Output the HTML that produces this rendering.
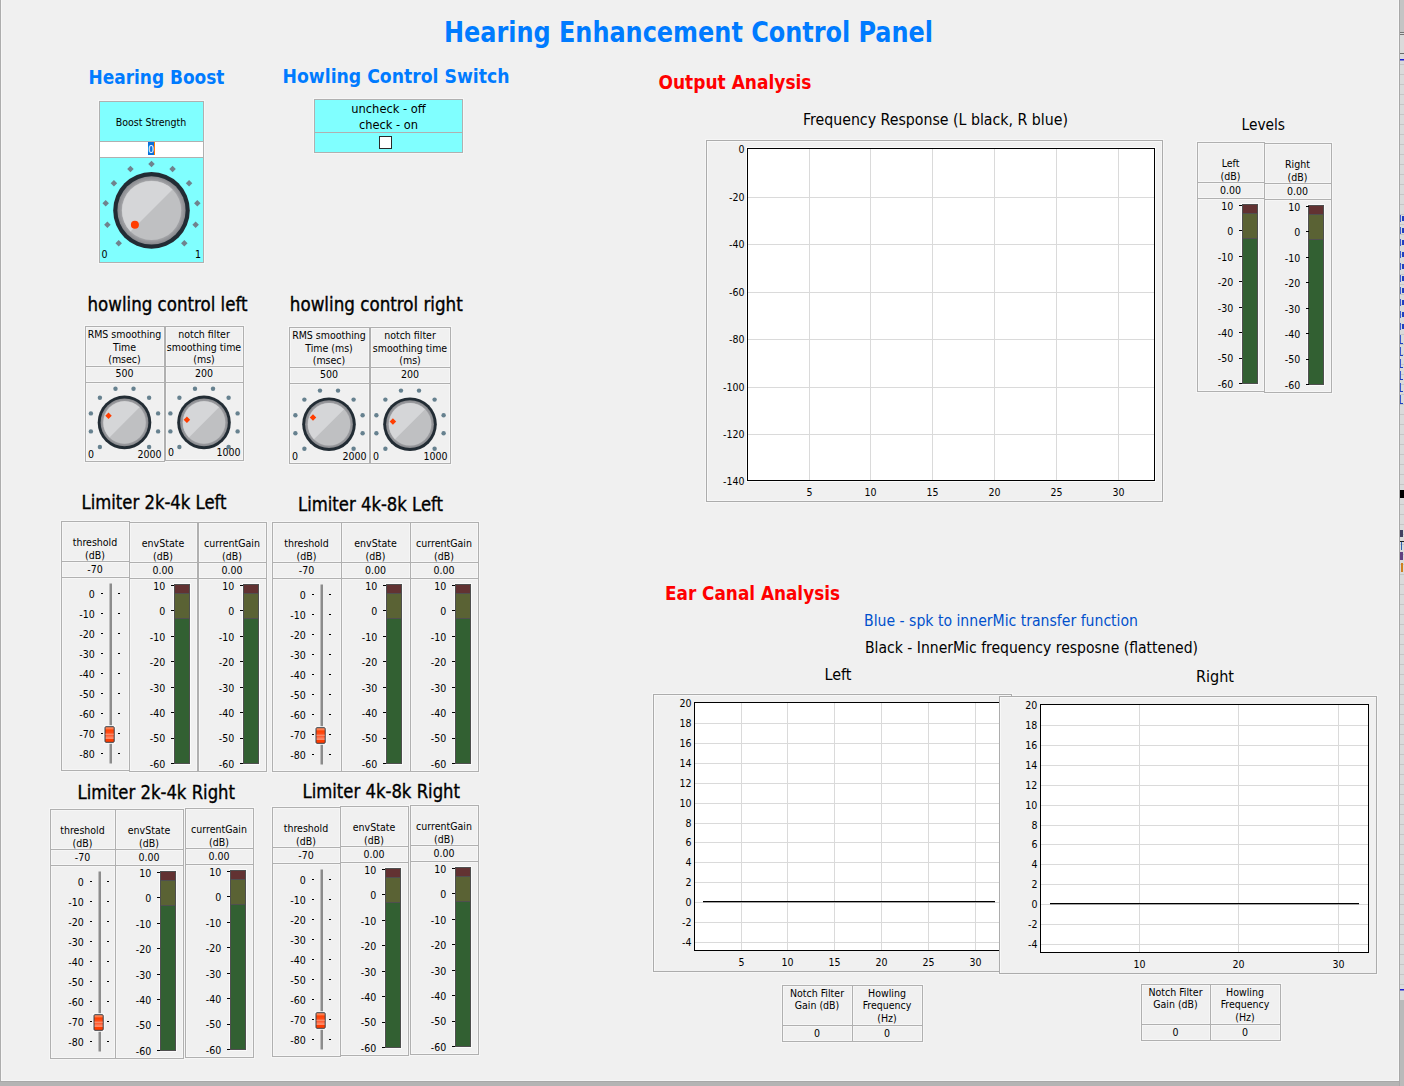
<!DOCTYPE html>
<html><head><meta charset="utf-8"><title>Hearing Enhancement Control Panel</title>
<style>
html,body{margin:0;padding:0;background:#f0f0f0;overflow:hidden;}
svg{display:block;}
text{font-family:"DejaVu Sans Condensed","DejaVu Sans","Liberation Sans",sans-serif;}
</style></head><body>
<svg width="1404" height="1086" viewBox="0 0 1404 1086">
<rect x="0" y="0" width="1404" height="1086" fill="#f0f0f0" />
<rect x="99.5" y="101.5" width="104" height="161" fill="none" stroke="#f6f6f6" stroke-width="3"/>
<rect x="100" y="140" width="103" height="3" fill="#f6f6f6"/>
<rect x="100" y="156" width="103" height="3" fill="#f6f6f6"/>
<rect x="314.5" y="99.5" width="148" height="53" fill="none" stroke="#f6f6f6" stroke-width="3"/>
<rect x="315" y="131" width="147" height="3" fill="#f6f6f6"/>
<rect x="379.5" y="136.5" width="12" height="12" fill="none" stroke="#f6f6f6" stroke-width="3"/>
<rect x="85.5" y="326.5" width="79" height="135" fill="none" stroke="#f6f6f6" stroke-width="3"/>
<rect x="86" y="365" width="78" height="3" fill="#f6f6f6"/>
<rect x="86" y="381" width="78" height="3" fill="#f6f6f6"/>
<rect x="165.5" y="326.5" width="78" height="134" fill="none" stroke="#f6f6f6" stroke-width="3"/>
<rect x="166" y="365" width="77" height="3" fill="#f6f6f6"/>
<rect x="166" y="381" width="77" height="3" fill="#f6f6f6"/>
<rect x="289.5" y="327.5" width="80" height="136" fill="none" stroke="#f6f6f6" stroke-width="3"/>
<rect x="290" y="366" width="79" height="3" fill="#f6f6f6"/>
<rect x="290" y="382" width="79" height="3" fill="#f6f6f6"/>
<rect x="370.5" y="327.5" width="80" height="136" fill="none" stroke="#f6f6f6" stroke-width="3"/>
<rect x="371" y="366" width="79" height="3" fill="#f6f6f6"/>
<rect x="371" y="382" width="79" height="3" fill="#f6f6f6"/>
<rect x="61.5" y="521.5" width="68" height="249" fill="none" stroke="#f6f6f6" stroke-width="3"/>
<rect x="62" y="560" width="67" height="3" fill="#f6f6f6"/>
<rect x="62" y="576" width="67" height="3" fill="#f6f6f6"/>
<rect x="129.5" y="522.5" width="68" height="249" fill="none" stroke="#f6f6f6" stroke-width="3"/>
<rect x="130" y="561" width="67" height="3" fill="#f6f6f6"/>
<rect x="130" y="577" width="67" height="3" fill="#f6f6f6"/>
<rect x="198.5" y="522.5" width="68" height="249" fill="none" stroke="#f6f6f6" stroke-width="3"/>
<rect x="199" y="561" width="67" height="3" fill="#f6f6f6"/>
<rect x="199" y="577" width="67" height="3" fill="#f6f6f6"/>
<rect x="272.5" y="522.5" width="69" height="249" fill="none" stroke="#f6f6f6" stroke-width="3"/>
<rect x="273" y="561" width="68" height="3" fill="#f6f6f6"/>
<rect x="273" y="577" width="68" height="3" fill="#f6f6f6"/>
<rect x="341.5" y="522.5" width="69" height="249" fill="none" stroke="#f6f6f6" stroke-width="3"/>
<rect x="342" y="561" width="68" height="3" fill="#f6f6f6"/>
<rect x="342" y="577" width="68" height="3" fill="#f6f6f6"/>
<rect x="410.5" y="522.5" width="68" height="249" fill="none" stroke="#f6f6f6" stroke-width="3"/>
<rect x="411" y="561" width="67" height="3" fill="#f6f6f6"/>
<rect x="411" y="577" width="67" height="3" fill="#f6f6f6"/>
<rect x="50.5" y="809.5" width="65" height="249" fill="none" stroke="#f6f6f6" stroke-width="3"/>
<rect x="51" y="848" width="64" height="3" fill="#f6f6f6"/>
<rect x="51" y="864" width="64" height="3" fill="#f6f6f6"/>
<rect x="115.5" y="809.5" width="68" height="249" fill="none" stroke="#f6f6f6" stroke-width="3"/>
<rect x="116" y="848" width="67" height="3" fill="#f6f6f6"/>
<rect x="116" y="864" width="67" height="3" fill="#f6f6f6"/>
<rect x="185.5" y="808.5" width="68" height="249" fill="none" stroke="#f6f6f6" stroke-width="3"/>
<rect x="186" y="847" width="67" height="3" fill="#f6f6f6"/>
<rect x="186" y="863" width="67" height="3" fill="#f6f6f6"/>
<rect x="272.5" y="807.5" width="68" height="249" fill="none" stroke="#f6f6f6" stroke-width="3"/>
<rect x="273" y="846" width="67" height="3" fill="#f6f6f6"/>
<rect x="273" y="862" width="67" height="3" fill="#f6f6f6"/>
<rect x="340.5" y="806.5" width="68" height="249" fill="none" stroke="#f6f6f6" stroke-width="3"/>
<rect x="341" y="845" width="67" height="3" fill="#f6f6f6"/>
<rect x="341" y="861" width="67" height="3" fill="#f6f6f6"/>
<rect x="410.5" y="805.5" width="68" height="249" fill="none" stroke="#f6f6f6" stroke-width="3"/>
<rect x="411" y="844" width="67" height="3" fill="#f6f6f6"/>
<rect x="411" y="860" width="67" height="3" fill="#f6f6f6"/>
<rect x="706.5" y="140.5" width="456" height="361" fill="none" stroke="#f6f6f6" stroke-width="3"/>
<rect x="1197.5" y="142.5" width="67" height="249" fill="none" stroke="#f6f6f6" stroke-width="3"/>
<rect x="1198" y="181" width="66" height="3" fill="#f6f6f6"/>
<rect x="1198" y="197" width="66" height="3" fill="#f6f6f6"/>
<rect x="1264.5" y="143.5" width="67" height="249" fill="none" stroke="#f6f6f6" stroke-width="3"/>
<rect x="1265" y="182" width="66" height="3" fill="#f6f6f6"/>
<rect x="1265" y="198" width="66" height="3" fill="#f6f6f6"/>
<rect x="653.5" y="694.5" width="358" height="277" fill="none" stroke="#f6f6f6" stroke-width="3"/>
<rect x="999.5" y="696.5" width="377" height="277" fill="none" stroke="#f6f6f6" stroke-width="3"/>
<rect x="782.5" y="985.5" width="70" height="56" fill="none" stroke="#f6f6f6" stroke-width="3"/>
<rect x="852.5" y="985.5" width="70" height="56" fill="none" stroke="#f6f6f6" stroke-width="3"/>
<rect x="783" y="1024" width="139" height="3" fill="#f6f6f6"/>
<rect x="1141.5" y="984.5" width="69" height="56" fill="none" stroke="#f6f6f6" stroke-width="3"/>
<rect x="1210.5" y="984.5" width="70" height="56" fill="none" stroke="#f6f6f6" stroke-width="3"/>
<rect x="1142" y="1023" width="138" height="3" fill="#f6f6f6"/>
<rect x="1399" y="0" width="5" height="1086" fill="#dadada" />
<rect x="1399" y="0" width="1" height="1086" fill="#a8a8a8" />
<rect x="1400" y="0" width="4" height="32" fill="#c4c4c4" />
<rect x="1400" y="32" width="4" height="1" fill="#747474" />
<rect x="1400" y="34" width="4" height="1" fill="#747474" />
<rect x="1400" y="53" width="4" height="1" fill="#6a6a6a" />
<rect x="1400" y="59" width="4" height="1.5" fill="#2020d0" />
<rect x="1400" y="64" width="4" height="1" fill="#c6c6c6" />
<rect x="1400" y="74" width="4" height="1" fill="#c6c6c6" />
<rect x="1400" y="84" width="4" height="1" fill="#c6c6c6" />
<rect x="1400" y="94" width="4" height="1" fill="#c6c6c6" />
<rect x="1400" y="104" width="4" height="1" fill="#c6c6c6" />
<rect x="1400" y="114" width="4" height="1" fill="#c6c6c6" />
<rect x="1400" y="124" width="4" height="1" fill="#c6c6c6" />
<rect x="1400" y="134" width="4" height="1" fill="#c6c6c6" />
<rect x="1400" y="144" width="4" height="1" fill="#c6c6c6" />
<rect x="1400" y="154" width="4" height="1" fill="#c6c6c6" />
<rect x="1400" y="164" width="4" height="1" fill="#c6c6c6" />
<rect x="1400" y="174" width="4" height="1" fill="#c6c6c6" />
<rect x="1400" y="184" width="4" height="1" fill="#c6c6c6" />
<rect x="1400" y="194" width="4" height="1" fill="#c6c6c6" />
<rect x="1400" y="204" width="4" height="1" fill="#c6c6c6" />
<rect x="1400" y="214" width="4" height="1" fill="#c6c6c6" />
<rect x="1400" y="224" width="4" height="1" fill="#c6c6c6" />
<rect x="1400" y="234" width="4" height="1" fill="#c6c6c6" />
<rect x="1400" y="244" width="4" height="1" fill="#c6c6c6" />
<rect x="1400" y="254" width="4" height="1" fill="#c6c6c6" />
<rect x="1400" y="264" width="4" height="1" fill="#c6c6c6" />
<rect x="1400" y="274" width="4" height="1" fill="#c6c6c6" />
<rect x="1400" y="284" width="4" height="1" fill="#c6c6c6" />
<rect x="1400" y="294" width="4" height="1" fill="#c6c6c6" />
<rect x="1400" y="304" width="4" height="1" fill="#c6c6c6" />
<rect x="1400" y="314" width="4" height="1" fill="#c6c6c6" />
<rect x="1400" y="324" width="4" height="1" fill="#c6c6c6" />
<rect x="1400" y="334" width="4" height="1" fill="#c6c6c6" />
<rect x="1400" y="344" width="4" height="1" fill="#c6c6c6" />
<rect x="1400" y="354" width="4" height="1" fill="#c6c6c6" />
<rect x="1400" y="364" width="4" height="1" fill="#c6c6c6" />
<rect x="1400" y="374" width="4" height="1" fill="#c6c6c6" />
<rect x="1400" y="384" width="4" height="1" fill="#c6c6c6" />
<rect x="1400" y="394" width="4" height="1" fill="#c6c6c6" />
<rect x="1400" y="404" width="4" height="1" fill="#c6c6c6" />
<rect x="1400" y="414" width="4" height="1" fill="#c6c6c6" />
<rect x="1400" y="424" width="4" height="1" fill="#c6c6c6" />
<rect x="1400" y="434" width="4" height="1" fill="#c6c6c6" />
<rect x="1400" y="444" width="4" height="1" fill="#c6c6c6" />
<rect x="1400" y="454" width="4" height="1" fill="#c6c6c6" />
<rect x="1400" y="464" width="4" height="1" fill="#c6c6c6" />
<rect x="1400" y="474" width="4" height="1" fill="#c6c6c6" />
<rect x="1400" y="484" width="4" height="1" fill="#c6c6c6" />
<rect x="1400" y="494" width="4" height="1" fill="#c6c6c6" />
<rect x="1400" y="504" width="4" height="1" fill="#c6c6c6" />
<rect x="1400" y="514" width="4" height="1" fill="#c6c6c6" />
<rect x="1400" y="524" width="4" height="1" fill="#c6c6c6" />
<rect x="1400" y="534" width="4" height="1" fill="#c6c6c6" />
<rect x="1400" y="544" width="4" height="1" fill="#c6c6c6" />
<rect x="1400" y="554" width="4" height="1" fill="#c6c6c6" />
<rect x="1400" y="564" width="4" height="1" fill="#c6c6c6" />
<rect x="1400" y="574" width="4" height="1" fill="#c6c6c6" />
<rect x="1400" y="584" width="4" height="1" fill="#c6c6c6" />
<rect x="1400" y="594" width="4" height="1" fill="#c6c6c6" />
<rect x="1400" y="604" width="4" height="1" fill="#c6c6c6" />
<rect x="1400" y="614" width="4" height="1" fill="#c6c6c6" />
<rect x="1400" y="624" width="4" height="1" fill="#c6c6c6" />
<rect x="1400" y="634" width="4" height="1" fill="#c6c6c6" />
<rect x="1400" y="644" width="4" height="1" fill="#c6c6c6" />
<rect x="1400" y="654" width="4" height="1" fill="#c6c6c6" />
<rect x="1400" y="664" width="4" height="1" fill="#c6c6c6" />
<rect x="1400" y="674" width="4" height="1" fill="#c6c6c6" />
<rect x="1400" y="684" width="4" height="1" fill="#c6c6c6" />
<rect x="1400" y="694" width="4" height="1" fill="#c6c6c6" />
<rect x="1400" y="704" width="4" height="1" fill="#c6c6c6" />
<rect x="1400" y="714" width="4" height="1" fill="#c6c6c6" />
<rect x="1400" y="724" width="4" height="1" fill="#c6c6c6" />
<rect x="1400" y="734" width="4" height="1" fill="#c6c6c6" />
<rect x="1400" y="744" width="4" height="1" fill="#c6c6c6" />
<rect x="1400" y="754" width="4" height="1" fill="#c6c6c6" />
<rect x="1400" y="764" width="4" height="1" fill="#c6c6c6" />
<rect x="1400" y="774" width="4" height="1" fill="#c6c6c6" />
<rect x="1400" y="784" width="4" height="1" fill="#c6c6c6" />
<rect x="1400" y="794" width="4" height="1" fill="#c6c6c6" />
<rect x="1400" y="804" width="4" height="1" fill="#c6c6c6" />
<rect x="1400" y="814" width="4" height="1" fill="#c6c6c6" />
<rect x="1400" y="824" width="4" height="1" fill="#c6c6c6" />
<rect x="1400" y="834" width="4" height="1" fill="#c6c6c6" />
<rect x="1400" y="844" width="4" height="1" fill="#c6c6c6" />
<rect x="1400" y="854" width="4" height="1" fill="#c6c6c6" />
<rect x="1400" y="864" width="4" height="1" fill="#c6c6c6" />
<rect x="1400" y="874" width="4" height="1" fill="#c6c6c6" />
<rect x="1400" y="884" width="4" height="1" fill="#c6c6c6" />
<rect x="1400" y="894" width="4" height="1" fill="#c6c6c6" />
<rect x="1400" y="904" width="4" height="1" fill="#c6c6c6" />
<rect x="1400" y="914" width="4" height="1" fill="#c6c6c6" />
<rect x="1400" y="924" width="4" height="1" fill="#c6c6c6" />
<rect x="1400" y="934" width="4" height="1" fill="#c6c6c6" />
<rect x="1400" y="944" width="4" height="1" fill="#c6c6c6" />
<rect x="1400" y="954" width="4" height="1" fill="#c6c6c6" />
<rect x="1400" y="964" width="4" height="1" fill="#c6c6c6" />
<rect x="1400" y="974" width="4" height="1" fill="#c6c6c6" />
<rect x="1400" y="984" width="4" height="1" fill="#c6c6c6" />
<rect x="1400" y="215" width="1" height="7" fill="#3a5ad0" />
<rect x="1402" y="216" width="2" height="5" fill="#2040c0" />
<rect x="1400" y="227" width="1" height="7" fill="#3a5ad0" />
<rect x="1402" y="228" width="2" height="5" fill="#2040c0" />
<rect x="1400" y="239" width="1" height="7" fill="#3a5ad0" />
<rect x="1402" y="240" width="2" height="5" fill="#2040c0" />
<rect x="1400" y="251" width="1" height="7" fill="#3a5ad0" />
<rect x="1402" y="252" width="2" height="5" fill="#2040c0" />
<rect x="1400" y="263" width="1" height="7" fill="#3a5ad0" />
<rect x="1402" y="264" width="2" height="5" fill="#2040c0" />
<rect x="1400" y="275" width="1" height="7" fill="#3a5ad0" />
<rect x="1402" y="276" width="2" height="5" fill="#2040c0" />
<rect x="1400" y="287" width="1" height="7" fill="#3a5ad0" />
<rect x="1402" y="288" width="2" height="5" fill="#2040c0" />
<rect x="1400" y="299" width="1" height="7" fill="#3a5ad0" />
<rect x="1402" y="300" width="2" height="5" fill="#2040c0" />
<rect x="1400" y="311" width="1" height="7" fill="#3a5ad0" />
<rect x="1402" y="312" width="2" height="5" fill="#2040c0" />
<rect x="1400" y="323" width="1" height="7" fill="#3a5ad0" />
<rect x="1402" y="324" width="2" height="5" fill="#2040c0" />
<rect x="1400" y="335" width="1" height="8" fill="#3a5ad0" />
<rect x="1400" y="343" width="3" height="1" fill="#2040c0" />
<rect x="1400" y="347" width="1" height="8" fill="#3a5ad0" />
<rect x="1400" y="355" width="3" height="1" fill="#2040c0" />
<rect x="1400" y="359" width="1" height="8" fill="#3a5ad0" />
<rect x="1400" y="367" width="3" height="1" fill="#2040c0" />
<rect x="1400" y="371" width="1" height="8" fill="#3a5ad0" />
<rect x="1400" y="379" width="3" height="1" fill="#2040c0" />
<rect x="1400" y="383" width="1" height="8" fill="#3a5ad0" />
<rect x="1400" y="391" width="3" height="1" fill="#2040c0" />
<rect x="1400" y="395" width="1" height="8" fill="#3a5ad0" />
<rect x="1400" y="403" width="3" height="1" fill="#2040c0" />
<rect x="1400" y="490" width="4" height="8" fill="#000000" />
<rect x="1400" y="530" width="3" height="7" fill="#404060" />
<rect x="1400" y="541" width="4" height="1" fill="#202020" />
<rect x="1401" y="542" width="1" height="8" fill="#3060b0" />
<rect x="1400" y="552" width="3" height="8" fill="#604080" />
<rect x="1401" y="563" width="2" height="9" fill="#d08020" />
<rect x="1400" y="989" width="4" height="1.5" fill="#2020d0" />
<rect x="1400" y="1000" width="4" height="86" fill="#bababa" />
<rect x="0" y="1081" width="1399" height="5" fill="#b4b4b4" />
<rect x="0" y="1081" width="1399" height="1" fill="#a8a8a8" />
<rect x="0" y="0" width="1" height="1081" fill="#adadad" />
<rect x="1" y="0" width="1" height="1080" fill="#f6f6f6" />
<rect x="1" y="1080" width="1398" height="1" fill="#f6f6f6" />
<rect x="1398" y="0" width="1" height="1081" fill="#f6f6f6" />
<text x="444" y="42" font-size="28" text-anchor="start" fill="#007bff" font-weight="bold" textLength="489" lengthAdjust="spacingAndGlyphs" >Hearing Enhancement Control Panel</text>
<text x="88.5" y="84" font-size="19" text-anchor="start" fill="#007bff" font-weight="bold" textLength="136" lengthAdjust="spacingAndGlyphs" >Hearing Boost</text>
<text x="282.5" y="82.7" font-size="19" text-anchor="start" fill="#007bff" font-weight="bold" textLength="227" lengthAdjust="spacingAndGlyphs" >Howling Control Switch</text>
<text x="658.5" y="89" font-size="19" text-anchor="start" fill="#ff0000" font-weight="bold" textLength="153" lengthAdjust="spacingAndGlyphs" >Output Analysis</text>
<text x="665" y="600" font-size="19" text-anchor="start" fill="#ff0000" font-weight="bold" textLength="175" lengthAdjust="spacingAndGlyphs" >Ear Canal Analysis</text>
<defs><radialGradient id="kg" cx="0.5" cy="0.5" r="0.5"><stop offset="0.86" stop-color="#a6a7aa"/><stop offset="0.93" stop-color="#95969a"/><stop offset="1" stop-color="#88898d"/></radialGradient></defs>
<rect x="99" y="101" width="105" height="162" fill="#80ffff" />
<rect x="99.5" y="101.5" width="104" height="161" fill="none" stroke="#b0b0b0" stroke-width="1"/>
<rect x="100" y="141" width="103" height="1" fill="#b0b0b0" />
<rect x="100" y="142" width="103" height="15" fill="#ffffff" />
<rect x="100" y="157" width="103" height="1" fill="#b0b0b0" />
<text x="151" y="125.8" font-size="10.5" text-anchor="middle" fill="#000" font-weight="normal" >Boost Strength</text>
<rect x="148" y="142" width="6" height="13" fill="#0a6fd8" />
<rect x="154" y="142" width="1" height="13" fill="#ff7f00" />
<text x="151" y="152.5" font-size="10.5" text-anchor="middle" fill="#ffffff" font-weight="normal" >0</text>
<path d="M118.69 239.96 L121.94 243.21 L118.69 246.46 L115.44 243.21Z" fill="#6f838e"/>
<path d="M107.37 221.49 L110.62 224.74 L107.37 227.99 L104.12 224.74Z" fill="#6f838e"/>
<path d="M105.67 199.89 L108.92 203.14 L105.67 206.39 L102.42 203.14Z" fill="#6f838e"/>
<path d="M113.96 179.88 L117.21 183.13 L113.96 186.38 L110.71 183.13Z" fill="#6f838e"/>
<path d="M130.43 165.81 L133.68 169.06 L130.43 172.31 L127.18 169.06Z" fill="#6f838e"/>
<path d="M151.50 160.75 L154.75 164.00 L151.50 167.25 L148.25 164.00Z" fill="#6f838e"/>
<path d="M172.57 165.81 L175.82 169.06 L172.57 172.31 L169.32 169.06Z" fill="#6f838e"/>
<path d="M189.04 179.88 L192.29 183.13 L189.04 186.38 L185.79 183.13Z" fill="#6f838e"/>
<path d="M197.33 199.89 L200.58 203.14 L197.33 206.39 L194.08 203.14Z" fill="#6f838e"/>
<path d="M195.63 221.49 L198.88 224.74 L195.63 227.99 L192.38 224.74Z" fill="#6f838e"/>
<path d="M184.31 239.96 L187.56 243.21 L184.31 246.46 L181.06 243.21Z" fill="#6f838e"/>
<circle cx="151.5" cy="210.4" r="38.3" fill="#222c34"/>
<circle cx="151.5" cy="210.4" r="34.099999999999994" fill="url(#kg)"/>
<circle cx="151.5" cy="210.4" r="29.7" fill="#bfc0c2"/>
<path d="M130.50 231.40 A29.7 29.7 0 0 1 172.50 189.40 Z" fill="#d5d6d8"/>
<circle cx="134.90" cy="224.83" r="4.0" fill="#ff3d00"/>
<text x="101.5" y="257.5" font-size="10.5" text-anchor="start" fill="#000" font-weight="normal" >0</text>
<text x="201" y="257.5" font-size="10.5" text-anchor="end" fill="#000" font-weight="normal" >1</text>
<rect x="314" y="99" width="149" height="54" fill="#80ffff" />
<rect x="314.5" y="99.5" width="148" height="53" fill="none" stroke="#b0b0b0" stroke-width="1"/>
<rect x="315" y="132" width="147" height="1" fill="#b0b0b0" />
<text x="388.5" y="112.5" font-size="12.8" text-anchor="middle" fill="#000" font-weight="normal" textLength="74.5" lengthAdjust="spacingAndGlyphs" >uncheck - off</text>
<text x="388.5" y="128.5" font-size="12.8" text-anchor="middle" fill="#000" font-weight="normal" textLength="59" lengthAdjust="spacingAndGlyphs" >check - on</text>
<rect x="379" y="136" width="13" height="13" fill="#ffffff" />
<rect x="379.5" y="136.5" width="12" height="12" fill="none" stroke="#2a2a2a" stroke-width="1"/>
<text x="87.5" y="310.5" font-size="19" text-anchor="start" fill="#000" font-weight="normal" textLength="160" lengthAdjust="spacingAndGlyphs"  stroke="#000" stroke-width="0.35">howling control left</text>
<text x="289.8" y="310.5" font-size="19" text-anchor="start" fill="#000" font-weight="normal" textLength="173" lengthAdjust="spacingAndGlyphs"  stroke="#000" stroke-width="0.35">howling control right</text>
<rect x="85.5" y="326.5" width="79" height="135" fill="none" stroke="#b0b0b0" stroke-width="1"/>
<rect x="86" y="366" width="78" height="1" fill="#b0b0b0" />
<rect x="86" y="382" width="78" height="1" fill="#b0b0b0" />
<text x="124.5" y="337.6" font-size="10.5" text-anchor="middle" fill="#000" font-weight="normal" >RMS smoothing</text>
<text x="124.5" y="350.5" font-size="10.5" text-anchor="middle" fill="#000" font-weight="normal" >Time</text>
<text x="124.5" y="363.40000000000003" font-size="10.5" text-anchor="middle" fill="#000" font-weight="normal" >(msec)</text>
<text x="124.5" y="377" font-size="10.5" text-anchor="middle" fill="#000" font-weight="normal" >500</text>
<circle cx="99.89" cy="447.01" r="2.2" fill="#66818f"/>
<circle cx="90.89" cy="431.41" r="2.2" fill="#66818f"/>
<circle cx="90.89" cy="413.39" r="2.2" fill="#66818f"/>
<circle cx="99.89" cy="397.79" r="2.2" fill="#66818f"/>
<circle cx="115.49" cy="388.79" r="2.2" fill="#66818f"/>
<circle cx="133.51" cy="388.79" r="2.2" fill="#66818f"/>
<circle cx="149.11" cy="397.79" r="2.2" fill="#66818f"/>
<circle cx="158.11" cy="413.39" r="2.2" fill="#66818f"/>
<circle cx="158.11" cy="431.41" r="2.2" fill="#66818f"/>
<circle cx="149.11" cy="447.01" r="2.2" fill="#66818f"/>
<circle cx="124.5" cy="422.4" r="26.8" fill="#222c34"/>
<circle cx="124.5" cy="422.4" r="23.900000000000002" fill="url(#kg)"/>
<circle cx="124.5" cy="422.4" r="21.3" fill="#bfc0c2"/>
<path d="M109.44 437.46 A21.3 21.3 0 0 1 139.56 407.34 Z" fill="#d5d6d8"/>
<path d="M108.52 412.53 L111.77 415.78 L108.52 419.03 L105.27 415.78Z" fill="#ff3d00"/>
<text x="88" y="457.5" font-size="10.5" text-anchor="start" fill="#000" font-weight="normal" >0</text>
<text x="161.5" y="457.5" font-size="10.5" text-anchor="end" fill="#000" font-weight="normal" >2000</text>
<rect x="165.5" y="326.5" width="78" height="134" fill="none" stroke="#b0b0b0" stroke-width="1"/>
<rect x="166" y="366" width="77" height="1" fill="#b0b0b0" />
<rect x="166" y="382" width="77" height="1" fill="#b0b0b0" />
<text x="204.0" y="337.6" font-size="10.5" text-anchor="middle" fill="#000" font-weight="normal" >notch filter</text>
<text x="204.0" y="350.5" font-size="10.5" text-anchor="middle" fill="#000" font-weight="normal" >smoothing time</text>
<text x="204.0" y="363.40000000000003" font-size="10.5" text-anchor="middle" fill="#000" font-weight="normal" >(ms)</text>
<text x="204.0" y="377" font-size="10.5" text-anchor="middle" fill="#000" font-weight="normal" >200</text>
<circle cx="179.39" cy="447.01" r="2.2" fill="#66818f"/>
<circle cx="170.39" cy="431.41" r="2.2" fill="#66818f"/>
<circle cx="170.39" cy="413.39" r="2.2" fill="#66818f"/>
<circle cx="179.39" cy="397.79" r="2.2" fill="#66818f"/>
<circle cx="194.99" cy="388.79" r="2.2" fill="#66818f"/>
<circle cx="213.01" cy="388.79" r="2.2" fill="#66818f"/>
<circle cx="228.61" cy="397.79" r="2.2" fill="#66818f"/>
<circle cx="237.61" cy="413.39" r="2.2" fill="#66818f"/>
<circle cx="237.61" cy="431.41" r="2.2" fill="#66818f"/>
<circle cx="228.61" cy="447.01" r="2.2" fill="#66818f"/>
<circle cx="204.0" cy="422.4" r="26.8" fill="#222c34"/>
<circle cx="204.0" cy="422.4" r="23.900000000000002" fill="url(#kg)"/>
<circle cx="204.0" cy="422.4" r="21.3" fill="#bfc0c2"/>
<path d="M188.94 437.46 A21.3 21.3 0 0 1 219.06 407.34 Z" fill="#d5d6d8"/>
<path d="M186.91 416.44 L190.16 419.69 L186.91 422.94 L183.66 419.69Z" fill="#ff3d00"/>
<text x="168" y="456.3" font-size="10.5" text-anchor="start" fill="#000" font-weight="normal" >0</text>
<text x="240.5" y="456.3" font-size="10.5" text-anchor="end" fill="#000" font-weight="normal" >1000</text>
<rect x="289.5" y="327.5" width="80" height="136" fill="none" stroke="#b0b0b0" stroke-width="1"/>
<rect x="290" y="367" width="79" height="1" fill="#b0b0b0" />
<rect x="290" y="383" width="79" height="1" fill="#b0b0b0" />
<text x="329.0" y="338.6" font-size="10.5" text-anchor="middle" fill="#000" font-weight="normal" >RMS smoothing</text>
<text x="329.0" y="351.5" font-size="10.5" text-anchor="middle" fill="#000" font-weight="normal" >Time (ms)</text>
<text x="329.0" y="364.40000000000003" font-size="10.5" text-anchor="middle" fill="#000" font-weight="normal" >(msec)</text>
<text x="329.0" y="378" font-size="10.5" text-anchor="middle" fill="#000" font-weight="normal" >500</text>
<circle cx="304.39" cy="448.81" r="2.2" fill="#66818f"/>
<circle cx="295.39" cy="433.21" r="2.2" fill="#66818f"/>
<circle cx="295.39" cy="415.19" r="2.2" fill="#66818f"/>
<circle cx="304.39" cy="399.59" r="2.2" fill="#66818f"/>
<circle cx="319.99" cy="390.59" r="2.2" fill="#66818f"/>
<circle cx="338.01" cy="390.59" r="2.2" fill="#66818f"/>
<circle cx="353.61" cy="399.59" r="2.2" fill="#66818f"/>
<circle cx="362.61" cy="415.19" r="2.2" fill="#66818f"/>
<circle cx="362.61" cy="433.21" r="2.2" fill="#66818f"/>
<circle cx="353.61" cy="448.81" r="2.2" fill="#66818f"/>
<circle cx="329.0" cy="424.2" r="26.8" fill="#222c34"/>
<circle cx="329.0" cy="424.2" r="23.900000000000002" fill="url(#kg)"/>
<circle cx="329.0" cy="424.2" r="21.3" fill="#bfc0c2"/>
<path d="M313.94 439.26 A21.3 21.3 0 0 1 344.06 409.14 Z" fill="#d5d6d8"/>
<path d="M313.02 414.33 L316.27 417.58 L313.02 420.83 L309.77 417.58Z" fill="#ff3d00"/>
<text x="292" y="459.5" font-size="10.5" text-anchor="start" fill="#000" font-weight="normal" >0</text>
<text x="366.5" y="459.5" font-size="10.5" text-anchor="end" fill="#000" font-weight="normal" >2000</text>
<rect x="370.5" y="327.5" width="80" height="136" fill="none" stroke="#b0b0b0" stroke-width="1"/>
<rect x="371" y="367" width="79" height="1" fill="#b0b0b0" />
<rect x="371" y="383" width="79" height="1" fill="#b0b0b0" />
<text x="410.0" y="338.6" font-size="10.5" text-anchor="middle" fill="#000" font-weight="normal" >notch filter</text>
<text x="410.0" y="351.5" font-size="10.5" text-anchor="middle" fill="#000" font-weight="normal" >smoothing time</text>
<text x="410.0" y="364.40000000000003" font-size="10.5" text-anchor="middle" fill="#000" font-weight="normal" >(ms)</text>
<text x="410.0" y="378" font-size="10.5" text-anchor="middle" fill="#000" font-weight="normal" >200</text>
<circle cx="385.39" cy="448.81" r="2.2" fill="#66818f"/>
<circle cx="376.39" cy="433.21" r="2.2" fill="#66818f"/>
<circle cx="376.39" cy="415.19" r="2.2" fill="#66818f"/>
<circle cx="385.39" cy="399.59" r="2.2" fill="#66818f"/>
<circle cx="400.99" cy="390.59" r="2.2" fill="#66818f"/>
<circle cx="419.01" cy="390.59" r="2.2" fill="#66818f"/>
<circle cx="434.61" cy="399.59" r="2.2" fill="#66818f"/>
<circle cx="443.61" cy="415.19" r="2.2" fill="#66818f"/>
<circle cx="443.61" cy="433.21" r="2.2" fill="#66818f"/>
<circle cx="434.61" cy="448.81" r="2.2" fill="#66818f"/>
<circle cx="410.0" cy="424.2" r="26.8" fill="#222c34"/>
<circle cx="410.0" cy="424.2" r="23.900000000000002" fill="url(#kg)"/>
<circle cx="410.0" cy="424.2" r="21.3" fill="#bfc0c2"/>
<path d="M394.94 439.26 A21.3 21.3 0 0 1 425.06 409.14 Z" fill="#d5d6d8"/>
<path d="M392.91 418.24 L396.16 421.49 L392.91 424.74 L389.66 421.49Z" fill="#ff3d00"/>
<text x="373" y="459.5" font-size="10.5" text-anchor="start" fill="#000" font-weight="normal" >0</text>
<text x="447.5" y="459.5" font-size="10.5" text-anchor="end" fill="#000" font-weight="normal" >1000</text>
<defs><linearGradient id="thumb" x1="0" y1="0" x2="0" y2="1"><stop offset="0" stop-color="#ff8a5c"/><stop offset="0.15" stop-color="#ff7a4a"/><stop offset="0.2" stop-color="#ff4000"/><stop offset="0.45" stop-color="#ff5020"/><stop offset="0.55" stop-color="#ff5a30"/><stop offset="0.75" stop-color="#ff9070"/><stop offset="0.82" stop-color="#ff3c00"/><stop offset="1" stop-color="#ff3c00"/></linearGradient></defs>
<text x="81.5" y="508.5" font-size="19" text-anchor="start" fill="#000" font-weight="normal" textLength="145" lengthAdjust="spacingAndGlyphs"  stroke="#000" stroke-width="0.35">Limiter 2k-4k Left</text>
<text x="298" y="510.5" font-size="19" text-anchor="start" fill="#000" font-weight="normal" textLength="145" lengthAdjust="spacingAndGlyphs"  stroke="#000" stroke-width="0.35">Limiter 4k-8k Left</text>
<text x="77.5" y="799.4" font-size="19" text-anchor="start" fill="#000" font-weight="normal" textLength="157.5" lengthAdjust="spacingAndGlyphs"  stroke="#000" stroke-width="0.35">Limiter 2k-4k Right</text>
<text x="302.5" y="797.9" font-size="19" text-anchor="start" fill="#000" font-weight="normal" textLength="157.5" lengthAdjust="spacingAndGlyphs"  stroke="#000" stroke-width="0.35">Limiter 4k-8k Right</text>
<rect x="61.5" y="521.5" width="68" height="249" fill="none" stroke="#b0b0b0" stroke-width="1"/>
<rect x="62" y="561" width="67" height="1" fill="#b0b0b0" />
<rect x="62" y="577" width="67" height="1" fill="#b0b0b0" />
<text x="95.0" y="546" font-size="10.5" text-anchor="middle" fill="#000" font-weight="normal" >threshold</text>
<text x="95.0" y="559.3" font-size="10.5" text-anchor="middle" fill="#000" font-weight="normal" >(dB)</text>
<text x="95.0" y="573" font-size="10.5" text-anchor="middle" fill="#000" font-weight="normal" >-70</text>
<rect x="109.5" y="583.5" width="2.5" height="180" fill="#8c8c8c" />
<text x="94.7" y="598.4" font-size="10.5" text-anchor="end" fill="#000" font-weight="normal" >0</text>
<rect x="101" y="593.0" width="2" height="1" fill="#000" />
<rect x="118" y="593.0" width="2" height="1" fill="#000" />
<text x="94.7" y="618.4" font-size="10.5" text-anchor="end" fill="#000" font-weight="normal" >-10</text>
<rect x="101" y="613.0" width="2" height="1" fill="#000" />
<rect x="118" y="613.0" width="2" height="1" fill="#000" />
<text x="94.7" y="638.4" font-size="10.5" text-anchor="end" fill="#000" font-weight="normal" >-20</text>
<rect x="101" y="633.0" width="2" height="1" fill="#000" />
<rect x="118" y="633.0" width="2" height="1" fill="#000" />
<text x="94.7" y="658.4" font-size="10.5" text-anchor="end" fill="#000" font-weight="normal" >-30</text>
<rect x="101" y="653.0" width="2" height="1" fill="#000" />
<rect x="118" y="653.0" width="2" height="1" fill="#000" />
<text x="94.7" y="678.4" font-size="10.5" text-anchor="end" fill="#000" font-weight="normal" >-40</text>
<rect x="101" y="673.0" width="2" height="1" fill="#000" />
<rect x="118" y="673.0" width="2" height="1" fill="#000" />
<text x="94.7" y="698.4" font-size="10.5" text-anchor="end" fill="#000" font-weight="normal" >-50</text>
<rect x="101" y="693.0" width="2" height="1" fill="#000" />
<rect x="118" y="693.0" width="2" height="1" fill="#000" />
<text x="94.7" y="718.4" font-size="10.5" text-anchor="end" fill="#000" font-weight="normal" >-60</text>
<rect x="101" y="713.0" width="2" height="1" fill="#000" />
<rect x="118" y="713.0" width="2" height="1" fill="#000" />
<text x="94.7" y="738.4" font-size="10.5" text-anchor="end" fill="#000" font-weight="normal" >-70</text>
<rect x="101" y="733.0" width="2" height="1" fill="#000" />
<rect x="118" y="733.0" width="2" height="1" fill="#000" />
<text x="94.7" y="758.4" font-size="10.5" text-anchor="end" fill="#000" font-weight="normal" >-80</text>
<rect x="101" y="753.0" width="2" height="1" fill="#000" />
<rect x="118" y="753.0" width="2" height="1" fill="#000" />
<rect x="103.5" y="725.2" width="12.2" height="18.6" fill="#f8f8f8" />
<rect x="105.0" y="726.7" width="9.2" height="15.6" rx="1" fill="url(#thumb)" stroke="#39424a" stroke-width="1"/>
<rect x="105.5" y="733.7" width="8.2" height="1" fill="#f4a080" />
<rect x="129.5" y="522.5" width="68" height="249" fill="none" stroke="#b0b0b0" stroke-width="1"/>
<rect x="130" y="562" width="67" height="1" fill="#b0b0b0" />
<rect x="130" y="578" width="67" height="1" fill="#b0b0b0" />
<text x="163.0" y="547" font-size="10.5" text-anchor="middle" fill="#000" font-weight="normal" >envState</text>
<text x="163.0" y="560.3" font-size="10.5" text-anchor="middle" fill="#000" font-weight="normal" >(dB)</text>
<text x="163.0" y="574" font-size="10.5" text-anchor="middle" fill="#000" font-weight="normal" >0.00</text>
<rect x="173" y="583" width="18" height="182" fill="#fafafa" />
<rect x="174" y="584" width="16" height="180" fill="#4f4f4f" />
<rect x="175" y="585" width="14" height="8" fill="#623232" />
<rect x="175" y="594" width="14" height="24" fill="#5a6234" />
<rect x="175" y="619" width="14" height="144" fill="#326032" />
<text x="165.3" y="589.9" font-size="10.5" text-anchor="end" fill="#000" font-weight="normal" >10</text>
<rect x="171" y="585" width="3" height="1" fill="#000" />
<text x="165.3" y="615.3285714285714" font-size="10.5" text-anchor="end" fill="#000" font-weight="normal" >0</text>
<rect x="171" y="610" width="3" height="1" fill="#000" />
<text x="165.3" y="640.7571428571429" font-size="10.5" text-anchor="end" fill="#000" font-weight="normal" >-10</text>
<rect x="171" y="636" width="3" height="1" fill="#000" />
<text x="165.3" y="666.1857142857142" font-size="10.5" text-anchor="end" fill="#000" font-weight="normal" >-20</text>
<rect x="171" y="661" width="3" height="1" fill="#000" />
<text x="165.3" y="691.6142857142856" font-size="10.5" text-anchor="end" fill="#000" font-weight="normal" >-30</text>
<rect x="171" y="687" width="3" height="1" fill="#000" />
<text x="165.3" y="717.0428571428571" font-size="10.5" text-anchor="end" fill="#000" font-weight="normal" >-40</text>
<rect x="171" y="712" width="3" height="1" fill="#000" />
<text x="165.3" y="742.4714285714285" font-size="10.5" text-anchor="end" fill="#000" font-weight="normal" >-50</text>
<rect x="171" y="738" width="3" height="1" fill="#000" />
<text x="165.3" y="767.9" font-size="10.5" text-anchor="end" fill="#000" font-weight="normal" >-60</text>
<rect x="171" y="763" width="3" height="1" fill="#000" />
<rect x="198.5" y="522.5" width="68" height="249" fill="none" stroke="#b0b0b0" stroke-width="1"/>
<rect x="199" y="562" width="67" height="1" fill="#b0b0b0" />
<rect x="199" y="578" width="67" height="1" fill="#b0b0b0" />
<text x="232.0" y="547" font-size="10.5" text-anchor="middle" fill="#000" font-weight="normal" >currentGain</text>
<text x="232.0" y="560.3" font-size="10.5" text-anchor="middle" fill="#000" font-weight="normal" >(dB)</text>
<text x="232.0" y="574" font-size="10.5" text-anchor="middle" fill="#000" font-weight="normal" >0.00</text>
<rect x="242" y="583" width="18" height="182" fill="#fafafa" />
<rect x="243" y="584" width="16" height="180" fill="#4f4f4f" />
<rect x="244" y="585" width="14" height="8" fill="#623232" />
<rect x="244" y="594" width="14" height="24" fill="#5a6234" />
<rect x="244" y="619" width="14" height="144" fill="#326032" />
<text x="234.3" y="589.9" font-size="10.5" text-anchor="end" fill="#000" font-weight="normal" >10</text>
<rect x="240" y="585" width="3" height="1" fill="#000" />
<text x="234.3" y="615.3285714285714" font-size="10.5" text-anchor="end" fill="#000" font-weight="normal" >0</text>
<rect x="240" y="610" width="3" height="1" fill="#000" />
<text x="234.3" y="640.7571428571429" font-size="10.5" text-anchor="end" fill="#000" font-weight="normal" >-10</text>
<rect x="240" y="636" width="3" height="1" fill="#000" />
<text x="234.3" y="666.1857142857142" font-size="10.5" text-anchor="end" fill="#000" font-weight="normal" >-20</text>
<rect x="240" y="661" width="3" height="1" fill="#000" />
<text x="234.3" y="691.6142857142856" font-size="10.5" text-anchor="end" fill="#000" font-weight="normal" >-30</text>
<rect x="240" y="687" width="3" height="1" fill="#000" />
<text x="234.3" y="717.0428571428571" font-size="10.5" text-anchor="end" fill="#000" font-weight="normal" >-40</text>
<rect x="240" y="712" width="3" height="1" fill="#000" />
<text x="234.3" y="742.4714285714285" font-size="10.5" text-anchor="end" fill="#000" font-weight="normal" >-50</text>
<rect x="240" y="738" width="3" height="1" fill="#000" />
<text x="234.3" y="767.9" font-size="10.5" text-anchor="end" fill="#000" font-weight="normal" >-60</text>
<rect x="240" y="763" width="3" height="1" fill="#000" />
<rect x="272.5" y="522.5" width="69" height="249" fill="none" stroke="#b0b0b0" stroke-width="1"/>
<rect x="273" y="562" width="68" height="1" fill="#b0b0b0" />
<rect x="273" y="578" width="68" height="1" fill="#b0b0b0" />
<text x="306.5" y="547" font-size="10.5" text-anchor="middle" fill="#000" font-weight="normal" >threshold</text>
<text x="306.5" y="560.3" font-size="10.5" text-anchor="middle" fill="#000" font-weight="normal" >(dB)</text>
<text x="306.5" y="574" font-size="10.5" text-anchor="middle" fill="#000" font-weight="normal" >-70</text>
<rect x="320.5" y="584.5" width="2.5" height="180" fill="#8c8c8c" />
<text x="305.7" y="599.4" font-size="10.5" text-anchor="end" fill="#000" font-weight="normal" >0</text>
<rect x="312" y="594.0" width="2" height="1" fill="#000" />
<rect x="329" y="594.0" width="2" height="1" fill="#000" />
<text x="305.7" y="619.4" font-size="10.5" text-anchor="end" fill="#000" font-weight="normal" >-10</text>
<rect x="312" y="614.0" width="2" height="1" fill="#000" />
<rect x="329" y="614.0" width="2" height="1" fill="#000" />
<text x="305.7" y="639.4" font-size="10.5" text-anchor="end" fill="#000" font-weight="normal" >-20</text>
<rect x="312" y="634.0" width="2" height="1" fill="#000" />
<rect x="329" y="634.0" width="2" height="1" fill="#000" />
<text x="305.7" y="659.4" font-size="10.5" text-anchor="end" fill="#000" font-weight="normal" >-30</text>
<rect x="312" y="654.0" width="2" height="1" fill="#000" />
<rect x="329" y="654.0" width="2" height="1" fill="#000" />
<text x="305.7" y="679.4" font-size="10.5" text-anchor="end" fill="#000" font-weight="normal" >-40</text>
<rect x="312" y="674.0" width="2" height="1" fill="#000" />
<rect x="329" y="674.0" width="2" height="1" fill="#000" />
<text x="305.7" y="699.4" font-size="10.5" text-anchor="end" fill="#000" font-weight="normal" >-50</text>
<rect x="312" y="694.0" width="2" height="1" fill="#000" />
<rect x="329" y="694.0" width="2" height="1" fill="#000" />
<text x="305.7" y="719.4" font-size="10.5" text-anchor="end" fill="#000" font-weight="normal" >-60</text>
<rect x="312" y="714.0" width="2" height="1" fill="#000" />
<rect x="329" y="714.0" width="2" height="1" fill="#000" />
<text x="305.7" y="739.4" font-size="10.5" text-anchor="end" fill="#000" font-weight="normal" >-70</text>
<rect x="312" y="734.0" width="2" height="1" fill="#000" />
<rect x="329" y="734.0" width="2" height="1" fill="#000" />
<text x="305.7" y="759.4" font-size="10.5" text-anchor="end" fill="#000" font-weight="normal" >-80</text>
<rect x="312" y="754.0" width="2" height="1" fill="#000" />
<rect x="329" y="754.0" width="2" height="1" fill="#000" />
<rect x="314.5" y="726.2" width="12.2" height="18.6" fill="#f8f8f8" />
<rect x="316.0" y="727.7" width="9.2" height="15.6" rx="1" fill="url(#thumb)" stroke="#39424a" stroke-width="1"/>
<rect x="316.5" y="734.7" width="8.2" height="1" fill="#f4a080" />
<rect x="341.5" y="522.5" width="69" height="249" fill="none" stroke="#b0b0b0" stroke-width="1"/>
<rect x="342" y="562" width="68" height="1" fill="#b0b0b0" />
<rect x="342" y="578" width="68" height="1" fill="#b0b0b0" />
<text x="375.5" y="547" font-size="10.5" text-anchor="middle" fill="#000" font-weight="normal" >envState</text>
<text x="375.5" y="560.3" font-size="10.5" text-anchor="middle" fill="#000" font-weight="normal" >(dB)</text>
<text x="375.5" y="574" font-size="10.5" text-anchor="middle" fill="#000" font-weight="normal" >0.00</text>
<rect x="385" y="583" width="18" height="182" fill="#fafafa" />
<rect x="386" y="584" width="16" height="180" fill="#4f4f4f" />
<rect x="387" y="585" width="14" height="8" fill="#623232" />
<rect x="387" y="594" width="14" height="24" fill="#5a6234" />
<rect x="387" y="619" width="14" height="144" fill="#326032" />
<text x="377.3" y="589.9" font-size="10.5" text-anchor="end" fill="#000" font-weight="normal" >10</text>
<rect x="383" y="585" width="3" height="1" fill="#000" />
<text x="377.3" y="615.3285714285714" font-size="10.5" text-anchor="end" fill="#000" font-weight="normal" >0</text>
<rect x="383" y="610" width="3" height="1" fill="#000" />
<text x="377.3" y="640.7571428571429" font-size="10.5" text-anchor="end" fill="#000" font-weight="normal" >-10</text>
<rect x="383" y="636" width="3" height="1" fill="#000" />
<text x="377.3" y="666.1857142857142" font-size="10.5" text-anchor="end" fill="#000" font-weight="normal" >-20</text>
<rect x="383" y="661" width="3" height="1" fill="#000" />
<text x="377.3" y="691.6142857142856" font-size="10.5" text-anchor="end" fill="#000" font-weight="normal" >-30</text>
<rect x="383" y="687" width="3" height="1" fill="#000" />
<text x="377.3" y="717.0428571428571" font-size="10.5" text-anchor="end" fill="#000" font-weight="normal" >-40</text>
<rect x="383" y="712" width="3" height="1" fill="#000" />
<text x="377.3" y="742.4714285714285" font-size="10.5" text-anchor="end" fill="#000" font-weight="normal" >-50</text>
<rect x="383" y="738" width="3" height="1" fill="#000" />
<text x="377.3" y="767.9" font-size="10.5" text-anchor="end" fill="#000" font-weight="normal" >-60</text>
<rect x="383" y="763" width="3" height="1" fill="#000" />
<rect x="410.5" y="522.5" width="68" height="249" fill="none" stroke="#b0b0b0" stroke-width="1"/>
<rect x="411" y="562" width="67" height="1" fill="#b0b0b0" />
<rect x="411" y="578" width="67" height="1" fill="#b0b0b0" />
<text x="444.0" y="547" font-size="10.5" text-anchor="middle" fill="#000" font-weight="normal" >currentGain</text>
<text x="444.0" y="560.3" font-size="10.5" text-anchor="middle" fill="#000" font-weight="normal" >(dB)</text>
<text x="444.0" y="574" font-size="10.5" text-anchor="middle" fill="#000" font-weight="normal" >0.00</text>
<rect x="454" y="583" width="18" height="182" fill="#fafafa" />
<rect x="455" y="584" width="16" height="180" fill="#4f4f4f" />
<rect x="456" y="585" width="14" height="8" fill="#623232" />
<rect x="456" y="594" width="14" height="24" fill="#5a6234" />
<rect x="456" y="619" width="14" height="144" fill="#326032" />
<text x="446.3" y="589.9" font-size="10.5" text-anchor="end" fill="#000" font-weight="normal" >10</text>
<rect x="452" y="585" width="3" height="1" fill="#000" />
<text x="446.3" y="615.3285714285714" font-size="10.5" text-anchor="end" fill="#000" font-weight="normal" >0</text>
<rect x="452" y="610" width="3" height="1" fill="#000" />
<text x="446.3" y="640.7571428571429" font-size="10.5" text-anchor="end" fill="#000" font-weight="normal" >-10</text>
<rect x="452" y="636" width="3" height="1" fill="#000" />
<text x="446.3" y="666.1857142857142" font-size="10.5" text-anchor="end" fill="#000" font-weight="normal" >-20</text>
<rect x="452" y="661" width="3" height="1" fill="#000" />
<text x="446.3" y="691.6142857142856" font-size="10.5" text-anchor="end" fill="#000" font-weight="normal" >-30</text>
<rect x="452" y="687" width="3" height="1" fill="#000" />
<text x="446.3" y="717.0428571428571" font-size="10.5" text-anchor="end" fill="#000" font-weight="normal" >-40</text>
<rect x="452" y="712" width="3" height="1" fill="#000" />
<text x="446.3" y="742.4714285714285" font-size="10.5" text-anchor="end" fill="#000" font-weight="normal" >-50</text>
<rect x="452" y="738" width="3" height="1" fill="#000" />
<text x="446.3" y="767.9" font-size="10.5" text-anchor="end" fill="#000" font-weight="normal" >-60</text>
<rect x="452" y="763" width="3" height="1" fill="#000" />
<rect x="50.5" y="809.5" width="65" height="249" fill="none" stroke="#b0b0b0" stroke-width="1"/>
<rect x="51" y="849" width="64" height="1" fill="#b0b0b0" />
<rect x="51" y="865" width="64" height="1" fill="#b0b0b0" />
<text x="82.5" y="834" font-size="10.5" text-anchor="middle" fill="#000" font-weight="normal" >threshold</text>
<text x="82.5" y="847.3" font-size="10.5" text-anchor="middle" fill="#000" font-weight="normal" >(dB)</text>
<text x="82.5" y="861" font-size="10.5" text-anchor="middle" fill="#000" font-weight="normal" >-70</text>
<rect x="98.5" y="871.5" width="2.5" height="180" fill="#8c8c8c" />
<text x="83.7" y="886.4" font-size="10.5" text-anchor="end" fill="#000" font-weight="normal" >0</text>
<rect x="90" y="881.0" width="2" height="1" fill="#000" />
<rect x="107" y="881.0" width="2" height="1" fill="#000" />
<text x="83.7" y="906.4" font-size="10.5" text-anchor="end" fill="#000" font-weight="normal" >-10</text>
<rect x="90" y="901.0" width="2" height="1" fill="#000" />
<rect x="107" y="901.0" width="2" height="1" fill="#000" />
<text x="83.7" y="926.4" font-size="10.5" text-anchor="end" fill="#000" font-weight="normal" >-20</text>
<rect x="90" y="921.0" width="2" height="1" fill="#000" />
<rect x="107" y="921.0" width="2" height="1" fill="#000" />
<text x="83.7" y="946.4" font-size="10.5" text-anchor="end" fill="#000" font-weight="normal" >-30</text>
<rect x="90" y="941.0" width="2" height="1" fill="#000" />
<rect x="107" y="941.0" width="2" height="1" fill="#000" />
<text x="83.7" y="966.4" font-size="10.5" text-anchor="end" fill="#000" font-weight="normal" >-40</text>
<rect x="90" y="961.0" width="2" height="1" fill="#000" />
<rect x="107" y="961.0" width="2" height="1" fill="#000" />
<text x="83.7" y="986.4" font-size="10.5" text-anchor="end" fill="#000" font-weight="normal" >-50</text>
<rect x="90" y="981.0" width="2" height="1" fill="#000" />
<rect x="107" y="981.0" width="2" height="1" fill="#000" />
<text x="83.7" y="1006.4" font-size="10.5" text-anchor="end" fill="#000" font-weight="normal" >-60</text>
<rect x="90" y="1001.0" width="2" height="1" fill="#000" />
<rect x="107" y="1001.0" width="2" height="1" fill="#000" />
<text x="83.7" y="1026.4" font-size="10.5" text-anchor="end" fill="#000" font-weight="normal" >-70</text>
<rect x="90" y="1021.0" width="2" height="1" fill="#000" />
<rect x="107" y="1021.0" width="2" height="1" fill="#000" />
<text x="83.7" y="1046.4" font-size="10.5" text-anchor="end" fill="#000" font-weight="normal" >-80</text>
<rect x="90" y="1041.0" width="2" height="1" fill="#000" />
<rect x="107" y="1041.0" width="2" height="1" fill="#000" />
<rect x="92.5" y="1013.2" width="12.2" height="18.6" fill="#f8f8f8" />
<rect x="94.0" y="1014.7" width="9.2" height="15.6" rx="1" fill="url(#thumb)" stroke="#39424a" stroke-width="1"/>
<rect x="94.5" y="1021.7" width="8.2" height="1" fill="#f4a080" />
<rect x="115.5" y="809.5" width="68" height="249" fill="none" stroke="#b0b0b0" stroke-width="1"/>
<rect x="116" y="849" width="67" height="1" fill="#b0b0b0" />
<rect x="116" y="865" width="67" height="1" fill="#b0b0b0" />
<text x="149.0" y="834" font-size="10.5" text-anchor="middle" fill="#000" font-weight="normal" >envState</text>
<text x="149.0" y="847.3" font-size="10.5" text-anchor="middle" fill="#000" font-weight="normal" >(dB)</text>
<text x="149.0" y="861" font-size="10.5" text-anchor="middle" fill="#000" font-weight="normal" >0.00</text>
<rect x="159" y="870" width="18" height="182" fill="#fafafa" />
<rect x="160" y="871" width="16" height="180" fill="#4f4f4f" />
<rect x="161" y="872" width="14" height="8" fill="#623232" />
<rect x="161" y="881" width="14" height="24" fill="#5a6234" />
<rect x="161" y="906" width="14" height="144" fill="#326032" />
<text x="151.3" y="876.9" font-size="10.5" text-anchor="end" fill="#000" font-weight="normal" >10</text>
<rect x="157" y="872" width="3" height="1" fill="#000" />
<text x="151.3" y="902.3285714285714" font-size="10.5" text-anchor="end" fill="#000" font-weight="normal" >0</text>
<rect x="157" y="897" width="3" height="1" fill="#000" />
<text x="151.3" y="927.7571428571429" font-size="10.5" text-anchor="end" fill="#000" font-weight="normal" >-10</text>
<rect x="157" y="923" width="3" height="1" fill="#000" />
<text x="151.3" y="953.1857142857142" font-size="10.5" text-anchor="end" fill="#000" font-weight="normal" >-20</text>
<rect x="157" y="948" width="3" height="1" fill="#000" />
<text x="151.3" y="978.6142857142856" font-size="10.5" text-anchor="end" fill="#000" font-weight="normal" >-30</text>
<rect x="157" y="974" width="3" height="1" fill="#000" />
<text x="151.3" y="1004.0428571428571" font-size="10.5" text-anchor="end" fill="#000" font-weight="normal" >-40</text>
<rect x="157" y="999" width="3" height="1" fill="#000" />
<text x="151.3" y="1029.4714285714285" font-size="10.5" text-anchor="end" fill="#000" font-weight="normal" >-50</text>
<rect x="157" y="1025" width="3" height="1" fill="#000" />
<text x="151.3" y="1054.9" font-size="10.5" text-anchor="end" fill="#000" font-weight="normal" >-60</text>
<rect x="157" y="1050" width="3" height="1" fill="#000" />
<rect x="185.5" y="808.5" width="68" height="249" fill="none" stroke="#b0b0b0" stroke-width="1"/>
<rect x="186" y="848" width="67" height="1" fill="#b0b0b0" />
<rect x="186" y="864" width="67" height="1" fill="#b0b0b0" />
<text x="219.0" y="833" font-size="10.5" text-anchor="middle" fill="#000" font-weight="normal" >currentGain</text>
<text x="219.0" y="846.3" font-size="10.5" text-anchor="middle" fill="#000" font-weight="normal" >(dB)</text>
<text x="219.0" y="860" font-size="10.5" text-anchor="middle" fill="#000" font-weight="normal" >0.00</text>
<rect x="229" y="869" width="18" height="182" fill="#fafafa" />
<rect x="230" y="870" width="16" height="180" fill="#4f4f4f" />
<rect x="231" y="871" width="14" height="8" fill="#623232" />
<rect x="231" y="880" width="14" height="24" fill="#5a6234" />
<rect x="231" y="905" width="14" height="144" fill="#326032" />
<text x="221.3" y="875.9" font-size="10.5" text-anchor="end" fill="#000" font-weight="normal" >10</text>
<rect x="227" y="871" width="3" height="1" fill="#000" />
<text x="221.3" y="901.3285714285714" font-size="10.5" text-anchor="end" fill="#000" font-weight="normal" >0</text>
<rect x="227" y="896" width="3" height="1" fill="#000" />
<text x="221.3" y="926.7571428571429" font-size="10.5" text-anchor="end" fill="#000" font-weight="normal" >-10</text>
<rect x="227" y="922" width="3" height="1" fill="#000" />
<text x="221.3" y="952.1857142857142" font-size="10.5" text-anchor="end" fill="#000" font-weight="normal" >-20</text>
<rect x="227" y="947" width="3" height="1" fill="#000" />
<text x="221.3" y="977.6142857142856" font-size="10.5" text-anchor="end" fill="#000" font-weight="normal" >-30</text>
<rect x="227" y="973" width="3" height="1" fill="#000" />
<text x="221.3" y="1003.0428571428571" font-size="10.5" text-anchor="end" fill="#000" font-weight="normal" >-40</text>
<rect x="227" y="998" width="3" height="1" fill="#000" />
<text x="221.3" y="1028.4714285714285" font-size="10.5" text-anchor="end" fill="#000" font-weight="normal" >-50</text>
<rect x="227" y="1024" width="3" height="1" fill="#000" />
<text x="221.3" y="1053.9" font-size="10.5" text-anchor="end" fill="#000" font-weight="normal" >-60</text>
<rect x="227" y="1049" width="3" height="1" fill="#000" />
<rect x="272.5" y="807.5" width="68" height="249" fill="none" stroke="#b0b0b0" stroke-width="1"/>
<rect x="273" y="847" width="67" height="1" fill="#b0b0b0" />
<rect x="273" y="863" width="67" height="1" fill="#b0b0b0" />
<text x="306.0" y="832" font-size="10.5" text-anchor="middle" fill="#000" font-weight="normal" >threshold</text>
<text x="306.0" y="845.3" font-size="10.5" text-anchor="middle" fill="#000" font-weight="normal" >(dB)</text>
<text x="306.0" y="859" font-size="10.5" text-anchor="middle" fill="#000" font-weight="normal" >-70</text>
<rect x="320.5" y="869.5" width="2.5" height="180" fill="#8c8c8c" />
<text x="305.7" y="884.4" font-size="10.5" text-anchor="end" fill="#000" font-weight="normal" >0</text>
<rect x="312" y="879.0" width="2" height="1" fill="#000" />
<rect x="329" y="879.0" width="2" height="1" fill="#000" />
<text x="305.7" y="904.4" font-size="10.5" text-anchor="end" fill="#000" font-weight="normal" >-10</text>
<rect x="312" y="899.0" width="2" height="1" fill="#000" />
<rect x="329" y="899.0" width="2" height="1" fill="#000" />
<text x="305.7" y="924.4" font-size="10.5" text-anchor="end" fill="#000" font-weight="normal" >-20</text>
<rect x="312" y="919.0" width="2" height="1" fill="#000" />
<rect x="329" y="919.0" width="2" height="1" fill="#000" />
<text x="305.7" y="944.4" font-size="10.5" text-anchor="end" fill="#000" font-weight="normal" >-30</text>
<rect x="312" y="939.0" width="2" height="1" fill="#000" />
<rect x="329" y="939.0" width="2" height="1" fill="#000" />
<text x="305.7" y="964.4" font-size="10.5" text-anchor="end" fill="#000" font-weight="normal" >-40</text>
<rect x="312" y="959.0" width="2" height="1" fill="#000" />
<rect x="329" y="959.0" width="2" height="1" fill="#000" />
<text x="305.7" y="984.4" font-size="10.5" text-anchor="end" fill="#000" font-weight="normal" >-50</text>
<rect x="312" y="979.0" width="2" height="1" fill="#000" />
<rect x="329" y="979.0" width="2" height="1" fill="#000" />
<text x="305.7" y="1004.4" font-size="10.5" text-anchor="end" fill="#000" font-weight="normal" >-60</text>
<rect x="312" y="999.0" width="2" height="1" fill="#000" />
<rect x="329" y="999.0" width="2" height="1" fill="#000" />
<text x="305.7" y="1024.4" font-size="10.5" text-anchor="end" fill="#000" font-weight="normal" >-70</text>
<rect x="312" y="1019.0" width="2" height="1" fill="#000" />
<rect x="329" y="1019.0" width="2" height="1" fill="#000" />
<text x="305.7" y="1044.4" font-size="10.5" text-anchor="end" fill="#000" font-weight="normal" >-80</text>
<rect x="312" y="1039.0" width="2" height="1" fill="#000" />
<rect x="329" y="1039.0" width="2" height="1" fill="#000" />
<rect x="314.5" y="1011.2" width="12.2" height="18.6" fill="#f8f8f8" />
<rect x="316.0" y="1012.7" width="9.2" height="15.6" rx="1" fill="url(#thumb)" stroke="#39424a" stroke-width="1"/>
<rect x="316.5" y="1019.7" width="8.2" height="1" fill="#f4a080" />
<rect x="340.5" y="806.5" width="68" height="249" fill="none" stroke="#b0b0b0" stroke-width="1"/>
<rect x="341" y="846" width="67" height="1" fill="#b0b0b0" />
<rect x="341" y="862" width="67" height="1" fill="#b0b0b0" />
<text x="374.0" y="831" font-size="10.5" text-anchor="middle" fill="#000" font-weight="normal" >envState</text>
<text x="374.0" y="844.3" font-size="10.5" text-anchor="middle" fill="#000" font-weight="normal" >(dB)</text>
<text x="374.0" y="858" font-size="10.5" text-anchor="middle" fill="#000" font-weight="normal" >0.00</text>
<rect x="384" y="867" width="18" height="182" fill="#fafafa" />
<rect x="385" y="868" width="16" height="180" fill="#4f4f4f" />
<rect x="386" y="869" width="14" height="8" fill="#623232" />
<rect x="386" y="878" width="14" height="24" fill="#5a6234" />
<rect x="386" y="903" width="14" height="144" fill="#326032" />
<text x="376.3" y="873.9" font-size="10.5" text-anchor="end" fill="#000" font-weight="normal" >10</text>
<rect x="382" y="869" width="3" height="1" fill="#000" />
<text x="376.3" y="899.3285714285714" font-size="10.5" text-anchor="end" fill="#000" font-weight="normal" >0</text>
<rect x="382" y="894" width="3" height="1" fill="#000" />
<text x="376.3" y="924.7571428571429" font-size="10.5" text-anchor="end" fill="#000" font-weight="normal" >-10</text>
<rect x="382" y="920" width="3" height="1" fill="#000" />
<text x="376.3" y="950.1857142857142" font-size="10.5" text-anchor="end" fill="#000" font-weight="normal" >-20</text>
<rect x="382" y="945" width="3" height="1" fill="#000" />
<text x="376.3" y="975.6142857142856" font-size="10.5" text-anchor="end" fill="#000" font-weight="normal" >-30</text>
<rect x="382" y="971" width="3" height="1" fill="#000" />
<text x="376.3" y="1001.0428571428571" font-size="10.5" text-anchor="end" fill="#000" font-weight="normal" >-40</text>
<rect x="382" y="996" width="3" height="1" fill="#000" />
<text x="376.3" y="1026.4714285714285" font-size="10.5" text-anchor="end" fill="#000" font-weight="normal" >-50</text>
<rect x="382" y="1022" width="3" height="1" fill="#000" />
<text x="376.3" y="1051.9" font-size="10.5" text-anchor="end" fill="#000" font-weight="normal" >-60</text>
<rect x="382" y="1047" width="3" height="1" fill="#000" />
<rect x="410.5" y="805.5" width="68" height="249" fill="none" stroke="#b0b0b0" stroke-width="1"/>
<rect x="411" y="845" width="67" height="1" fill="#b0b0b0" />
<rect x="411" y="861" width="67" height="1" fill="#b0b0b0" />
<text x="444.0" y="830" font-size="10.5" text-anchor="middle" fill="#000" font-weight="normal" >currentGain</text>
<text x="444.0" y="843.3" font-size="10.5" text-anchor="middle" fill="#000" font-weight="normal" >(dB)</text>
<text x="444.0" y="857" font-size="10.5" text-anchor="middle" fill="#000" font-weight="normal" >0.00</text>
<rect x="454" y="866" width="18" height="182" fill="#fafafa" />
<rect x="455" y="867" width="16" height="180" fill="#4f4f4f" />
<rect x="456" y="868" width="14" height="8" fill="#623232" />
<rect x="456" y="877" width="14" height="24" fill="#5a6234" />
<rect x="456" y="902" width="14" height="144" fill="#326032" />
<text x="446.3" y="872.9" font-size="10.5" text-anchor="end" fill="#000" font-weight="normal" >10</text>
<rect x="452" y="868" width="3" height="1" fill="#000" />
<text x="446.3" y="898.3285714285714" font-size="10.5" text-anchor="end" fill="#000" font-weight="normal" >0</text>
<rect x="452" y="893" width="3" height="1" fill="#000" />
<text x="446.3" y="923.7571428571429" font-size="10.5" text-anchor="end" fill="#000" font-weight="normal" >-10</text>
<rect x="452" y="919" width="3" height="1" fill="#000" />
<text x="446.3" y="949.1857142857142" font-size="10.5" text-anchor="end" fill="#000" font-weight="normal" >-20</text>
<rect x="452" y="944" width="3" height="1" fill="#000" />
<text x="446.3" y="974.6142857142856" font-size="10.5" text-anchor="end" fill="#000" font-weight="normal" >-30</text>
<rect x="452" y="970" width="3" height="1" fill="#000" />
<text x="446.3" y="1000.0428571428571" font-size="10.5" text-anchor="end" fill="#000" font-weight="normal" >-40</text>
<rect x="452" y="995" width="3" height="1" fill="#000" />
<text x="446.3" y="1025.4714285714285" font-size="10.5" text-anchor="end" fill="#000" font-weight="normal" >-50</text>
<rect x="452" y="1021" width="3" height="1" fill="#000" />
<text x="446.3" y="1050.9" font-size="10.5" text-anchor="end" fill="#000" font-weight="normal" >-60</text>
<rect x="452" y="1046" width="3" height="1" fill="#000" />
<text x="803" y="124.9" font-size="16" text-anchor="start" fill="#000" font-weight="normal" textLength="265" lengthAdjust="spacingAndGlyphs" >Frequency Response (L black, R blue)</text>
<rect x="706.5" y="140.5" width="456" height="361" fill="none" stroke="#acacac" stroke-width="1"/>
<rect x="707" y="141" width="455" height="1" fill="#f8f8f8" />
<rect x="707" y="141" width="1" height="360" fill="#f8f8f8" />
<rect x="746" y="147" width="410" height="335" fill="#fbfbfb" />
<rect x="747" y="148" width="408" height="333" fill="#000000" />
<rect x="748" y="149" width="406" height="331" fill="#ffffff" />
<rect x="809" y="149" width="1" height="331" fill="#dadada" />
<text x="809.5" y="496" font-size="10.5" text-anchor="middle" fill="#000" font-weight="normal" >5</text>
<rect x="870" y="149" width="1" height="331" fill="#dadada" />
<text x="870.5" y="496" font-size="10.5" text-anchor="middle" fill="#000" font-weight="normal" >10</text>
<rect x="932" y="149" width="1" height="331" fill="#dadada" />
<text x="932.5" y="496" font-size="10.5" text-anchor="middle" fill="#000" font-weight="normal" >15</text>
<rect x="994" y="149" width="1" height="331" fill="#dadada" />
<text x="994.5" y="496" font-size="10.5" text-anchor="middle" fill="#000" font-weight="normal" >20</text>
<rect x="1056" y="149" width="1" height="331" fill="#dadada" />
<text x="1056.5" y="496" font-size="10.5" text-anchor="middle" fill="#000" font-weight="normal" >25</text>
<rect x="1118" y="149" width="1" height="331" fill="#dadada" />
<text x="1118.5" y="496" font-size="10.5" text-anchor="middle" fill="#000" font-weight="normal" >30</text>
<rect x="748" y="197" width="406" height="1" fill="#dadada" />
<rect x="748" y="244" width="406" height="1" fill="#dadada" />
<rect x="748" y="292" width="406" height="1" fill="#dadada" />
<rect x="748" y="339" width="406" height="1" fill="#dadada" />
<rect x="748" y="387" width="406" height="1" fill="#dadada" />
<rect x="748" y="434" width="406" height="1" fill="#dadada" />
<text x="744.5" y="153.4" font-size="10.5" text-anchor="end" fill="#000" font-weight="normal" >0</text>
<text x="744.5" y="201.4" font-size="10.5" text-anchor="end" fill="#000" font-weight="normal" >-20</text>
<text x="744.5" y="248.4" font-size="10.5" text-anchor="end" fill="#000" font-weight="normal" >-40</text>
<text x="744.5" y="296.4" font-size="10.5" text-anchor="end" fill="#000" font-weight="normal" >-60</text>
<text x="744.5" y="343.4" font-size="10.5" text-anchor="end" fill="#000" font-weight="normal" >-80</text>
<text x="744.5" y="391.4" font-size="10.5" text-anchor="end" fill="#000" font-weight="normal" >-100</text>
<text x="744.5" y="438.4" font-size="10.5" text-anchor="end" fill="#000" font-weight="normal" >-120</text>
<text x="744.5" y="484.9" font-size="10.5" text-anchor="end" fill="#000" font-weight="normal" >-140</text>
<text x="1241.5" y="130" font-size="16" text-anchor="start" fill="#000" font-weight="normal" textLength="43.5" lengthAdjust="spacingAndGlyphs" >Levels</text>
<rect x="1197.5" y="142.5" width="67" height="249" fill="none" stroke="#b0b0b0" stroke-width="1"/>
<rect x="1198" y="182" width="66" height="1" fill="#b0b0b0" />
<rect x="1198" y="198" width="66" height="1" fill="#b0b0b0" />
<text x="1230.5" y="167" font-size="10.5" text-anchor="middle" fill="#000" font-weight="normal" >Left</text>
<text x="1230.5" y="180.3" font-size="10.5" text-anchor="middle" fill="#000" font-weight="normal" >(dB)</text>
<text x="1230.5" y="194" font-size="10.5" text-anchor="middle" fill="#000" font-weight="normal" >0.00</text>
<rect x="1241" y="203" width="18" height="182" fill="#fafafa" />
<rect x="1242" y="204" width="16" height="180" fill="#4f4f4f" />
<rect x="1243" y="205" width="14" height="8" fill="#623232" />
<rect x="1243" y="214" width="14" height="24" fill="#5a6234" />
<rect x="1243" y="239" width="14" height="144" fill="#326032" />
<text x="1233.3" y="209.9" font-size="10.5" text-anchor="end" fill="#000" font-weight="normal" >10</text>
<rect x="1239" y="205" width="3" height="1" fill="#000" />
<text x="1233.3" y="235.32857142857142" font-size="10.5" text-anchor="end" fill="#000" font-weight="normal" >0</text>
<rect x="1239" y="230" width="3" height="1" fill="#000" />
<text x="1233.3" y="260.7571428571428" font-size="10.5" text-anchor="end" fill="#000" font-weight="normal" >-10</text>
<rect x="1239" y="256" width="3" height="1" fill="#000" />
<text x="1233.3" y="286.18571428571425" font-size="10.5" text-anchor="end" fill="#000" font-weight="normal" >-20</text>
<rect x="1239" y="281" width="3" height="1" fill="#000" />
<text x="1233.3" y="311.6142857142857" font-size="10.5" text-anchor="end" fill="#000" font-weight="normal" >-30</text>
<rect x="1239" y="307" width="3" height="1" fill="#000" />
<text x="1233.3" y="337.0428571428571" font-size="10.5" text-anchor="end" fill="#000" font-weight="normal" >-40</text>
<rect x="1239" y="332" width="3" height="1" fill="#000" />
<text x="1233.3" y="362.47142857142853" font-size="10.5" text-anchor="end" fill="#000" font-weight="normal" >-50</text>
<rect x="1239" y="358" width="3" height="1" fill="#000" />
<text x="1233.3" y="387.9" font-size="10.5" text-anchor="end" fill="#000" font-weight="normal" >-60</text>
<rect x="1239" y="383" width="3" height="1" fill="#000" />
<rect x="1264.5" y="143.5" width="67" height="249" fill="none" stroke="#b0b0b0" stroke-width="1"/>
<rect x="1265" y="183" width="66" height="1" fill="#b0b0b0" />
<rect x="1265" y="199" width="66" height="1" fill="#b0b0b0" />
<text x="1297.5" y="168" font-size="10.5" text-anchor="middle" fill="#000" font-weight="normal" >Right</text>
<text x="1297.5" y="181.3" font-size="10.5" text-anchor="middle" fill="#000" font-weight="normal" >(dB)</text>
<text x="1297.5" y="195" font-size="10.5" text-anchor="middle" fill="#000" font-weight="normal" >0.00</text>
<rect x="1307" y="204" width="18" height="182" fill="#fafafa" />
<rect x="1308" y="205" width="16" height="180" fill="#4f4f4f" />
<rect x="1309" y="206" width="14" height="8" fill="#623232" />
<rect x="1309" y="215" width="14" height="24" fill="#5a6234" />
<rect x="1309" y="240" width="14" height="144" fill="#326032" />
<text x="1300.3" y="210.9" font-size="10.5" text-anchor="end" fill="#000" font-weight="normal" >10</text>
<rect x="1306" y="206" width="3" height="1" fill="#000" />
<text x="1300.3" y="236.32857142857142" font-size="10.5" text-anchor="end" fill="#000" font-weight="normal" >0</text>
<rect x="1306" y="231" width="3" height="1" fill="#000" />
<text x="1300.3" y="261.7571428571428" font-size="10.5" text-anchor="end" fill="#000" font-weight="normal" >-10</text>
<rect x="1306" y="257" width="3" height="1" fill="#000" />
<text x="1300.3" y="287.18571428571425" font-size="10.5" text-anchor="end" fill="#000" font-weight="normal" >-20</text>
<rect x="1306" y="282" width="3" height="1" fill="#000" />
<text x="1300.3" y="312.6142857142857" font-size="10.5" text-anchor="end" fill="#000" font-weight="normal" >-30</text>
<rect x="1306" y="308" width="3" height="1" fill="#000" />
<text x="1300.3" y="338.0428571428571" font-size="10.5" text-anchor="end" fill="#000" font-weight="normal" >-40</text>
<rect x="1306" y="333" width="3" height="1" fill="#000" />
<text x="1300.3" y="363.47142857142853" font-size="10.5" text-anchor="end" fill="#000" font-weight="normal" >-50</text>
<rect x="1306" y="359" width="3" height="1" fill="#000" />
<text x="1300.3" y="388.9" font-size="10.5" text-anchor="end" fill="#000" font-weight="normal" >-60</text>
<rect x="1306" y="384" width="3" height="1" fill="#000" />
<text x="864" y="626" font-size="15.6" text-anchor="start" fill="#0050cc" font-weight="normal" textLength="274" lengthAdjust="spacingAndGlyphs" >Blue - spk to innerMic transfer function</text>
<text x="865" y="652.5" font-size="15.6" text-anchor="start" fill="#000" font-weight="normal" textLength="333" lengthAdjust="spacingAndGlyphs" >Black - InnerMic frequency resposne (flattened)</text>
<text x="824.5" y="679.6" font-size="16" text-anchor="start" fill="#000" font-weight="normal" textLength="27" lengthAdjust="spacingAndGlyphs" >Left</text>
<text x="1196" y="681.8" font-size="16" text-anchor="start" fill="#000" font-weight="normal" textLength="38" lengthAdjust="spacingAndGlyphs" >Right</text>
<rect x="653.5" y="694.5" width="358" height="277" fill="#f0f0f0" stroke="#acacac" stroke-width="1"/>
<rect x="654" y="695" width="357" height="1" fill="#f8f8f8" />
<rect x="654" y="695" width="1" height="276" fill="#f8f8f8" />
<rect x="694" y="702" width="312" height="249" fill="#000000" />
<rect x="695" y="703" width="310" height="247" fill="#ffffff" />
<rect x="741" y="703" width="1" height="247" fill="#dadada" />
<text x="741.5" y="966" font-size="10.5" text-anchor="middle" fill="#000" font-weight="normal" >5</text>
<rect x="787" y="703" width="1" height="247" fill="#dadada" />
<text x="787.5" y="966" font-size="10.5" text-anchor="middle" fill="#000" font-weight="normal" >10</text>
<rect x="834" y="703" width="1" height="247" fill="#dadada" />
<text x="834.5" y="966" font-size="10.5" text-anchor="middle" fill="#000" font-weight="normal" >15</text>
<rect x="881" y="703" width="1" height="247" fill="#dadada" />
<text x="881.5" y="966" font-size="10.5" text-anchor="middle" fill="#000" font-weight="normal" >20</text>
<rect x="928" y="703" width="1" height="247" fill="#dadada" />
<text x="928.5" y="966" font-size="10.5" text-anchor="middle" fill="#000" font-weight="normal" >25</text>
<rect x="975" y="703" width="1" height="247" fill="#dadada" />
<text x="975.5" y="966" font-size="10.5" text-anchor="middle" fill="#000" font-weight="normal" >30</text>
<rect x="695" y="723" width="310" height="1" fill="#dadada" />
<rect x="695" y="743" width="310" height="1" fill="#dadada" />
<rect x="695" y="763" width="310" height="1" fill="#dadada" />
<rect x="695" y="783" width="310" height="1" fill="#dadada" />
<rect x="695" y="803" width="310" height="1" fill="#dadada" />
<rect x="695" y="823" width="310" height="1" fill="#dadada" />
<rect x="695" y="842" width="310" height="1" fill="#dadada" />
<rect x="695" y="862" width="310" height="1" fill="#dadada" />
<rect x="695" y="882" width="310" height="1" fill="#dadada" />
<rect x="695" y="902" width="310" height="1" fill="#dadada" />
<rect x="695" y="922" width="310" height="1" fill="#dadada" />
<rect x="695" y="942" width="310" height="1" fill="#dadada" />
<text x="691.5" y="706.9" font-size="10.5" text-anchor="end" fill="#000" font-weight="normal" >20</text>
<text x="691.5" y="727.4" font-size="10.5" text-anchor="end" fill="#000" font-weight="normal" >18</text>
<text x="691.5" y="747.4" font-size="10.5" text-anchor="end" fill="#000" font-weight="normal" >16</text>
<text x="691.5" y="767.4" font-size="10.5" text-anchor="end" fill="#000" font-weight="normal" >14</text>
<text x="691.5" y="787.4" font-size="10.5" text-anchor="end" fill="#000" font-weight="normal" >12</text>
<text x="691.5" y="807.4" font-size="10.5" text-anchor="end" fill="#000" font-weight="normal" >10</text>
<text x="691.5" y="827.4" font-size="10.5" text-anchor="end" fill="#000" font-weight="normal" >8</text>
<text x="691.5" y="846.4" font-size="10.5" text-anchor="end" fill="#000" font-weight="normal" >6</text>
<text x="691.5" y="866.4" font-size="10.5" text-anchor="end" fill="#000" font-weight="normal" >4</text>
<text x="691.5" y="886.4" font-size="10.5" text-anchor="end" fill="#000" font-weight="normal" >2</text>
<text x="691.5" y="906.4" font-size="10.5" text-anchor="end" fill="#000" font-weight="normal" >0</text>
<text x="691.5" y="926.4" font-size="10.5" text-anchor="end" fill="#000" font-weight="normal" >-2</text>
<text x="691.5" y="946.4" font-size="10.5" text-anchor="end" fill="#000" font-weight="normal" >-4</text>
<rect x="703" y="901" width="292" height="1.25" fill="#000000" />
<rect x="999.5" y="696.5" width="377" height="277" fill="#f0f0f0" stroke="#acacac" stroke-width="1"/>
<rect x="1000" y="697" width="376" height="1" fill="#f8f8f8" />
<rect x="1000" y="697" width="1" height="276" fill="#f8f8f8" />
<rect x="1040" y="704" width="329" height="249" fill="#000000" />
<rect x="1041" y="705" width="327" height="247" fill="#ffffff" />
<rect x="1139" y="705" width="1" height="247" fill="#dadada" />
<text x="1139.5" y="968" font-size="10.5" text-anchor="middle" fill="#000" font-weight="normal" >10</text>
<rect x="1238" y="705" width="1" height="247" fill="#dadada" />
<text x="1238.5" y="968" font-size="10.5" text-anchor="middle" fill="#000" font-weight="normal" >20</text>
<rect x="1338" y="705" width="1" height="247" fill="#dadada" />
<text x="1338.5" y="968" font-size="10.5" text-anchor="middle" fill="#000" font-weight="normal" >30</text>
<rect x="1041" y="725" width="327" height="1" fill="#dadada" />
<rect x="1041" y="745" width="327" height="1" fill="#dadada" />
<rect x="1041" y="765" width="327" height="1" fill="#dadada" />
<rect x="1041" y="785" width="327" height="1" fill="#dadada" />
<rect x="1041" y="805" width="327" height="1" fill="#dadada" />
<rect x="1041" y="825" width="327" height="1" fill="#dadada" />
<rect x="1041" y="844" width="327" height="1" fill="#dadada" />
<rect x="1041" y="864" width="327" height="1" fill="#dadada" />
<rect x="1041" y="884" width="327" height="1" fill="#dadada" />
<rect x="1041" y="904" width="327" height="1" fill="#dadada" />
<rect x="1041" y="924" width="327" height="1" fill="#dadada" />
<rect x="1041" y="944" width="327" height="1" fill="#dadada" />
<text x="1037.4" y="708.9" font-size="10.5" text-anchor="end" fill="#000" font-weight="normal" >20</text>
<text x="1037.4" y="729.4" font-size="10.5" text-anchor="end" fill="#000" font-weight="normal" >18</text>
<text x="1037.4" y="749.4" font-size="10.5" text-anchor="end" fill="#000" font-weight="normal" >16</text>
<text x="1037.4" y="769.4" font-size="10.5" text-anchor="end" fill="#000" font-weight="normal" >14</text>
<text x="1037.4" y="789.4" font-size="10.5" text-anchor="end" fill="#000" font-weight="normal" >12</text>
<text x="1037.4" y="809.4" font-size="10.5" text-anchor="end" fill="#000" font-weight="normal" >10</text>
<text x="1037.4" y="829.4" font-size="10.5" text-anchor="end" fill="#000" font-weight="normal" >8</text>
<text x="1037.4" y="848.4" font-size="10.5" text-anchor="end" fill="#000" font-weight="normal" >6</text>
<text x="1037.4" y="868.4" font-size="10.5" text-anchor="end" fill="#000" font-weight="normal" >4</text>
<text x="1037.4" y="888.4" font-size="10.5" text-anchor="end" fill="#000" font-weight="normal" >2</text>
<text x="1037.4" y="908.4" font-size="10.5" text-anchor="end" fill="#000" font-weight="normal" >0</text>
<text x="1037.4" y="928.4" font-size="10.5" text-anchor="end" fill="#000" font-weight="normal" >-2</text>
<text x="1037.4" y="948.4" font-size="10.5" text-anchor="end" fill="#000" font-weight="normal" >-4</text>
<rect x="1050" y="903" width="309" height="1.25" fill="#000000" />
<rect x="782.5" y="985.5" width="70" height="56" fill="none" stroke="#b0b0b0" stroke-width="1"/>
<rect x="852.5" y="985.5" width="70" height="56" fill="none" stroke="#b0b0b0" stroke-width="1"/>
<rect x="783" y="1025" width="139" height="1" fill="#b0b0b0" />
<text x="817.0" y="996.7" font-size="10.5" text-anchor="middle" fill="#000" font-weight="normal" >Notch Filter</text>
<text x="817.0" y="1009.4" font-size="10.5" text-anchor="middle" fill="#000" font-weight="normal" >Gain (dB)</text>
<text x="887.0" y="996.7" font-size="10.5" text-anchor="middle" fill="#000" font-weight="normal" >Howling</text>
<text x="887.0" y="1009.4" font-size="10.5" text-anchor="middle" fill="#000" font-weight="normal" >Frequency</text>
<text x="887.0" y="1021.6" font-size="10.5" text-anchor="middle" fill="#000" font-weight="normal" >(Hz)</text>
<text x="817.0" y="1036.5" font-size="10.5" text-anchor="middle" fill="#000" font-weight="normal" >0</text>
<text x="887.0" y="1036.5" font-size="10.5" text-anchor="middle" fill="#000" font-weight="normal" >0</text>
<rect x="1141.5" y="984.5" width="69" height="56" fill="none" stroke="#b0b0b0" stroke-width="1"/>
<rect x="1210.5" y="984.5" width="70" height="56" fill="none" stroke="#b0b0b0" stroke-width="1"/>
<rect x="1142" y="1024" width="138" height="1" fill="#b0b0b0" />
<text x="1175.5" y="995.7" font-size="10.5" text-anchor="middle" fill="#000" font-weight="normal" >Notch Filter</text>
<text x="1175.5" y="1008.4" font-size="10.5" text-anchor="middle" fill="#000" font-weight="normal" >Gain (dB)</text>
<text x="1245.0" y="995.7" font-size="10.5" text-anchor="middle" fill="#000" font-weight="normal" >Howling</text>
<text x="1245.0" y="1008.4" font-size="10.5" text-anchor="middle" fill="#000" font-weight="normal" >Frequency</text>
<text x="1245.0" y="1020.6" font-size="10.5" text-anchor="middle" fill="#000" font-weight="normal" >(Hz)</text>
<text x="1175.5" y="1035.5" font-size="10.5" text-anchor="middle" fill="#000" font-weight="normal" >0</text>
<text x="1245.0" y="1035.5" font-size="10.5" text-anchor="middle" fill="#000" font-weight="normal" >0</text>
</svg>
</body></html>
